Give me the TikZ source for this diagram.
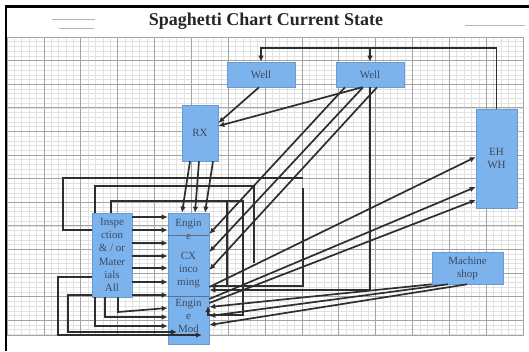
\documentclass[tikz,border=0pt]{standalone}
\usepackage{fontspec}
\setmainfont{Liberation Serif}
\usetikzlibrary{arrows.meta}
\definecolor{boxfill}{HTML}{7DB3EC}
\definecolor{boxedge}{HTML}{6A9AD0}
\definecolor{boxtext}{HTML}{3B4A63}
\definecolor{minorgrid}{HTML}{E2E2E2}
\definecolor{majorgrid}{HTML}{A4A4A4}
\definecolor{wire}{HTML}{2E2E2E}
\definecolor{rule}{HTML}{B5B5B5}
\tikzset{
  area/.style={draw=boxedge, line width=0.6pt, fill=boxfill, text=boxtext,
    inner sep=0pt, align=center, font=\fontsize{11}{13.3}\selectfont},
  label/.style={text=boxtext, inner sep=0pt, align=center,
    font=\fontsize{11}{13.3}\selectfont},
  route/.style={draw=wire, line width=1.7pt},
  flow/.style={route, -{Latex[length=6pt,width=5.5pt]}},
}
\begin{document}
\begin{tikzpicture}[x=1pt,y=-1pt]
\useasboundingbox (0,0) rectangle (529,351);
\fill[white] (0,0) rectangle (529,351);

% graph paper
\foreach \i in {0,...,70}{
  \pgfmathsetmacro\gx{7+\i*7.3714}
  \draw[minorgrid, line width=0.5pt] (\gx,37) -- (\gx,335);
}
\foreach \j in {0,...,63}{
  \pgfmathsetmacro\gy{37+\j*4.72}
  \draw[minorgrid, line width=0.5pt] (7,\gy) -- (523,\gy);
}
\foreach \i in {0,...,14}{
  \pgfmathsetmacro\gx{7+\i*36.857}
  \draw[majorgrid, line width=0.7pt] (\gx,37) -- (\gx,335);
}
\foreach \j in {0,...,12}{
  \pgfmathsetmacro\gy{37+\j*23.6}
  \draw[majorgrid, line width=0.7pt] (7,\gy) -- (523,\gy);
}
\draw[majorgrid, line width=0.7pt] (7,335) -- (523,335) -- (523,37);

% frame and heading
\draw[black, line width=2.4pt] (6,351) -- (6,6.5) -- (529,6.5);
\node[font=\bfseries\fontsize{18}{20}\selectfont, text=black!85] (title) at (266,21) {Spaghetti Chart Current State};
\draw[rule, line width=0.9pt] (52,19) -- (95,19);
\draw[rule, line width=0.9pt] (59,28) -- (94,28);
\draw[rule, line width=0.9pt] (465,25) -- (525,25);

% work areas
\node[area, minimum width=68pt, minimum height=25pt] (well1) at (261,74.5) {Well};
\node[area, minimum width=68pt, minimum height=25pt] (well2) at (370,74.5) {Well};
\node[area, minimum width=36pt, minimum height=56pt] (rx) at (200,133) {RX};
\node[area, minimum width=41pt, minimum height=99pt] (ehwh) at (496.5,158.5) {EH\\WH};
\node[area, minimum width=71pt, minimum height=32pt] (shop) at (467.5,268) {Machine\\shop};
\node[area, minimum width=40pt, minimum height=84pt] (insp) at (112,255) {Inspe\\ction\\\& / or\\Mater\\ials\\All};
\node[area, minimum width=41pt, minimum height=131pt] (eng) at (188.5,278.5) {};
\node[label] (engtop) at (188.5,229.5) {Engin\\e};
\node[label] (cx) at (188.5,270) {CX\\inco\\ming};
\node[label] (engmod) at (188.5,316) {Engin\\e\\Mod};
\draw[boxtext!80, line width=0.7pt] (eng.west |- 0,235) -- (eng.east |- 0,235);
\draw[boxtext!80, line width=0.7pt] (eng.west |- 0,296) -- (eng.east |- 0,296);

% EH WH feeds both wells
\draw[flow] (ehwh.north) -- (ehwh.north |- 0,48) -| (well1.north);
\draw[flow] (well2.north |- 0,48) -- (well2.north);

% wells to RX
\draw[flow] (well1.south -| 259,0) -- (rx.east |- 0,123);
\draw[flow] (well2.south -| 362,0) -- (rx.east |- 0,126);

% RX to engine
\draw[flow] (rx.south -| 190,0) -- (eng.north -| 182,0);
\draw[flow] (rx.south -| 199,0) -- (eng.north -| 195,0);
\draw[flow] (rx.south -| 213,0) -- (eng.north -| 205,0);

% inspection to engine
\foreach \y in {217,230,243,256,268,282,295}
  \draw[flow] (insp.east |- 0,\y) -- (eng.west |- 0,\y);

% loops over the top
\draw[route] (insp.west |- 0,230) -| (63,178) -- (303,178);
\draw[route] (insp.north -| 95,0) |- (254,186) -- (254,263);
\draw[flow] (insp.north -| 111,0) |- (243,201) -- (243,315) -- (208,315) -- (208,306);
\draw[route] (227,201) -- (227,286);
\draw[flow] (303,188) |- (eng.east |- 0,286);

% loops underneath
\draw[flow] (insp.south -| 118,0) -- (118,312) -- (eng.west |- 0,308);
\draw[flow] (insp.south -| 105,0) |- (eng.west |- 0,317);
\draw[flow] (insp.south -| 95,0) |- (eng.west |- 0,326);
\coordinate (modin1) at (177,332);
\coordinate (modin2) at (202,335);
\draw[flow] (insp.west |- 0,295) -| (68,332) -- (modin1);
\draw[flow] (insp.west |- 0,277) -| (58,335) -- (modin2);

% well to incoming
\draw[flow] (well2.south -| 345,0) -- (eng.east |- 0,234);
\draw[flow] (well2.south -| 363,0) -- (eng.east |- 0,252);
\draw[flow] (well2.south -| 377,0) -- (eng.east |- 0,270);
\draw[flow] (well2.south) -- (370,290) -- (eng.east |- 0,290);

% engine to EH WH
\draw[flow] (eng.east |- 0,287) -- (ehwh.west |- 0,157);
\draw[flow] (eng.east |- 0,299) -- (ehwh.west |- 0,187);
\draw[flow] (eng.east |- 0,303) -- (ehwh.west |- 0,200);

% machine shop to engine mod
\draw[flow] (shop.south west) -- (eng.east |- 0,307);
\draw[flow] (shop.south -| 448,0) -- (eng.east |- 0,316);
\draw[flow] (shop.south -| 467,0) -- (eng.east |- 0,325);
\end{tikzpicture}
\end{document}
